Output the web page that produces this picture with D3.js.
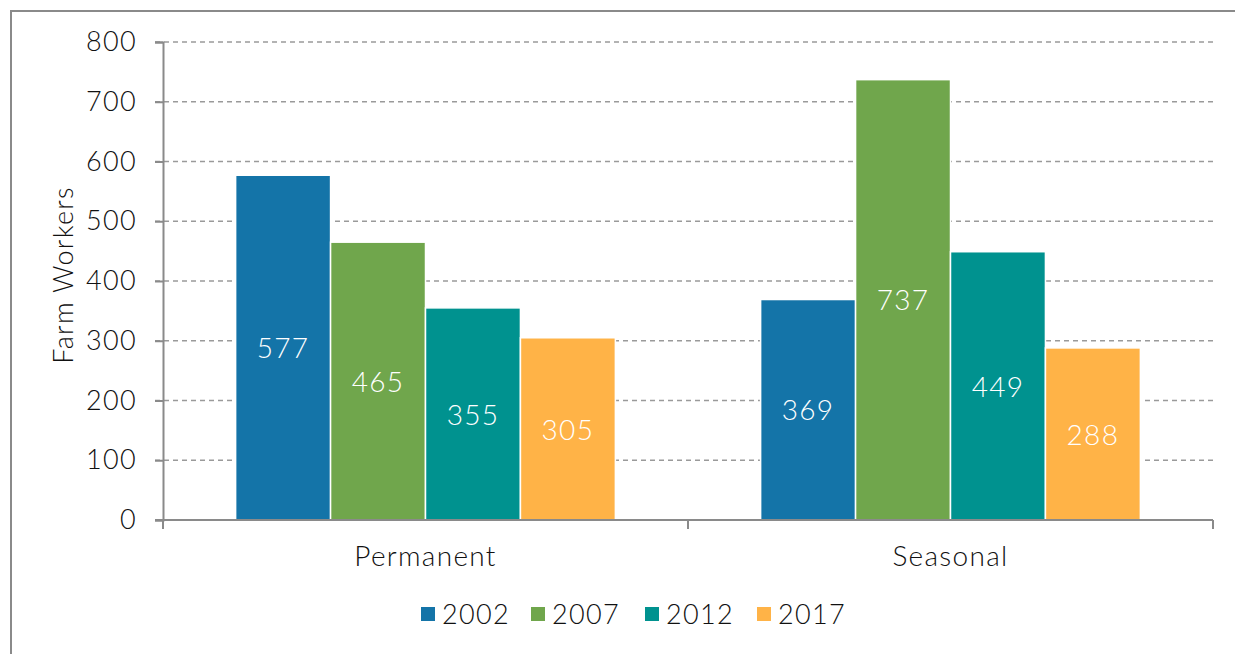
<!DOCTYPE html>
<html>
<head>
<meta charset="utf-8">
<script src="https://cdn.jsdelivr.net/npm/d3@7"></script>
<style>
  body { margin: 0; background: #fff; }
  text { font-family: "Lato", "DejaVu Sans", sans-serif; font-weight: 300; letter-spacing: 1.3px; }
</style>
</head>
<body>
<div id="chart"></div>
<script>
// chart values
var categories = ["Permanent", "Seasonal"];
var years = ["2002", "2007", "2012", "2017"];
var permanent = [577, 465, 355, 305];
var seasonal = [369, 737, 449, 288];
var colors = ["#1474a8", "#70a64c", "#00928f", "#ffb347"];
var yTicks = [0, 100, 200, 300, 400, 500, 600, 700, 800];

var svgWidth = 1235, svgHeight = 654;
var margin = { top: 42, right: 22, bottom: 134, left: 163 };
var width = svgWidth - margin.left - margin.right;
var height = svgHeight - margin.top - margin.bottom;

var svg = d3.select("#chart").append("svg")
  .attr("width", svgWidth)
  .attr("height", svgHeight);

// outer border
svg.append("rect")
  .attr("x", 11).attr("y", 11)
  .attr("width", 1235).attr("height", 680)
  .attr("fill", "none")
  .attr("stroke", "#8a8a8a")
  .attr("stroke-width", 2);

var g = svg.append("g")
  .attr("transform", `translate(${margin.left}, ${margin.top})`);

var x0 = d3.scaleBand().domain(categories).range([0, width]).padding(0);
var x1 = d3.scaleBand().domain(years).range([0, x0.bandwidth()])
  .paddingInner(0).paddingOuter(0.765);
var y = d3.scaleLinear().domain([0, 800]).range([height, 0]);

// dashed gridlines
g.selectAll(".grid")
  .data(yTicks.filter(d => d > 0))
  .enter().append("line")
  .attr("x1", -8).attr("x2", width)
  .attr("y1", d => y(d)).attr("y2", d => y(d))
  .attr("stroke", "#9a9a9a")
  .attr("stroke-width", 1.3)
  .attr("stroke-dasharray", "5,4");

// y axis
var yAxis = g.append("g")
  .call(d3.axisLeft(y).tickValues(yTicks).tickSize(8).tickPadding(18));
yAxis.select(".domain").attr("stroke", "#8a8a8a").attr("stroke-width", 2);
yAxis.selectAll(".tick line").attr("stroke", "#8a8a8a").attr("stroke-width", 2);
yAxis.selectAll(".tick text")
  .style("font-size", "27px").attr("fill", "#111")
  .style("font-family", "Lato, sans-serif");

svg.append("text")
  .attr("transform", "rotate(-90)")
  .attr("x", -275)
  .attr("y", 73)
  .style("text-anchor", "middle")
  .style("font-size", "27px")
  .attr("fill", "#111")
  .text("Farm Workers");

// bars
var rows = categories.map(function(c, i) {
  var vals = i === 0 ? permanent : seasonal;
  return years.map(function(yr, j) { return { cat: c, year: yr, value: vals[j], color: colors[j] }; });
});

var groups = g.selectAll(".grp")
  .data(rows)
  .enter().append("g")
  .attr("transform", (d, i) => `translate(${x0(categories[i])}, 0)`);

groups.selectAll("rect")
  .data(d => d)
  .enter().append("rect")
  .attr("x", d => x1(d.year))
  .attr("width", x1.bandwidth())
  .attr("y", d => y(d.value))
  .attr("height", d => height - y(d.value))
  .attr("fill", d => d.color)
  .attr("stroke", "#fff")
  .attr("stroke-width", 1.5);

groups.selectAll(".lbl")
  .data(d => d)
  .enter().append("text")
  .attr("x", d => x1(d.year) + x1.bandwidth() / 2)
  .attr("y", d => y(d.value / 2))
  .attr("dy", "0.38em")
  .style("text-anchor", "middle")
  .style("font-size", "28px")
  .attr("fill", "#fff")
  .text(d => d.value);

// x axis
var xAxis = g.append("g")
  .attr("transform", `translate(0, ${height})`);
xAxis.append("line")
  .attr("x1", -8).attr("x2", width)
  .attr("stroke", "#8a8a8a").attr("stroke-width", 2);
xAxis.selectAll(".xt")
  .data([0, x0.step(), width])
  .enter().append("line")
  .attr("x1", d => d).attr("x2", d => d)
  .attr("y1", 0).attr("y2", 9)
  .attr("stroke", "#8a8a8a").attr("stroke-width", 2);
xAxis.selectAll(".xl")
  .data(categories)
  .enter().append("text")
  .attr("x", d => x0(d) + x0.bandwidth() / 2)
  .attr("y", 46)
  .style("text-anchor", "middle")
  .style("font-size", "28px")
  .attr("fill", "#111")
  .text(d => d);

// legend
var legendX = [421, 531, 645, 757];
var legend = svg.selectAll(".leg")
  .data(years)
  .enter().append("g")
  .attr("transform", (d, i) => `translate(${legendX[i]}, 607)`);
legend.append("rect")
  .attr("width", 14).attr("height", 14)
  .attr("fill", (d, i) => colors[i]);
legend.append("text")
  .attr("x", 21).attr("y", 7)
  .attr("dy", "0.36em")
  .style("font-size", "27px")
  .attr("fill", "#111")
  .text(d => d);
</script>
</body>
</html>
